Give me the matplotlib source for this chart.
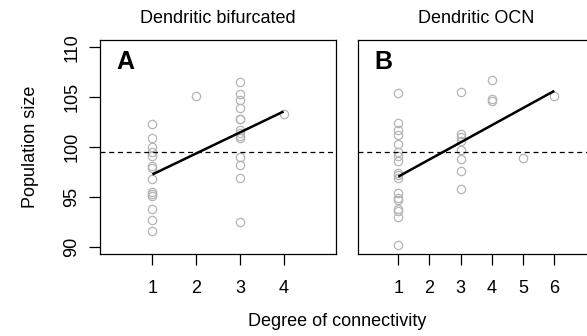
import matplotlib
matplotlib.use("Agg")
import matplotlib.pyplot as plt

plt.rcParams['font.family'] = ['Liberation Sans', 'DejaVu Sans']

# Panel A: dendritic bifurcated
a_x = [1]*14 + [2] + [3]*14 + [4]
a_y = [102.3, 100.9, 100.0, 99.5, 99.1, 98.1, 97.9, 96.8, 95.5, 95.3, 95.1, 93.8, 92.7, 91.6,
       105.1,
       106.5, 105.3, 104.7, 103.9, 102.8, 102.8, 101.7, 101.4, 101.1, 100.9, 99.0, 98.2, 96.9, 92.5,
       103.3]
a_fit_x = [1, 4]
a_fit_y = [97.25, 103.56]

# Panel B: dendritic OCN
b_x = [1]*18 + [3]*8 + [4]*3 + [5] + [6]
b_y = [105.4, 102.4, 101.7, 101.2, 100.3, 99.5, 99.1, 98.6, 97.4, 97.2, 96.9, 95.4, 94.9, 94.7,
       93.8, 93.6, 93.0, 90.2,
       105.5, 101.3, 101.0, 100.6, 99.7, 98.8, 97.6, 95.8,
       106.7, 104.8, 104.6,
       98.9,
       105.1]
b_fit_x = [1, 6]
b_fit_y = [97.03, 105.63]

ref_level = 99.46
y_ticks = [90, 95, 100, 105, 110]

fig = plt.figure(figsize=(5.87, 3.36), dpi=100)
W, H = 587, 336

def make_ax(left, right):
    return fig.add_axes([left / W, (H - 254) / H, (right - left) / W, 214 / H])

ax_a = make_ax(100, 336)
ax_b = make_ax(358.3, 594.3)

panels = [
    (ax_a, a_x, a_y, a_fit_x, a_fit_y, (-0.2, 5.2), [1, 2, 3, 4], "Dendritic bifurcated", "A"),
    (ax_b, b_x, b_y, b_fit_x, b_fit_y, (-0.28, 7.28), [1, 2, 3, 4, 5, 6], "Dendritic OCN", "B"),
]

for ax, xs, ys, fx, fy, xlim, xt, title, tag in panels:
    ax.plot(xs, ys, 'o', mfc='none', mec='#b5b5b5', ms=6.0, mew=0.9)
    ax.plot(fx, fy, color='black', lw=1.8, solid_capstyle='butt')
    ax.axhline(ref_level, color='black', lw=0.9, ls=(0, (4, 3)))
    ax.set_xlim(*xlim)
    ax.set_ylim(89.27, 110.73)
    ax.set_xticks(xt)
    ax.set_yticks(y_ticks)
    ax.tick_params(direction='out', length=8, width=0.9, labelsize=13)
    ax.tick_params(axis='x', pad=11)
    ax.tick_params(axis='y', pad=6)
    ax.set_title(title, fontsize=13, pad=12)
    ax.text(0.07, 0.955, tag, transform=ax.transAxes, fontsize=18, fontweight='bold',
            va='top', ha='left')
    for s in ax.spines.values():
        s.set_linewidth(0.9)

for lab in ax_a.get_yticklabels():
    lab.set_rotation(90)
    lab.set_va('center')
ax_b.tick_params(axis='y', left=False, labelleft=False)

ax_a.set_ylabel("Population size", fontsize=13, labelpad=18)
fig.text(337 / W, 1 - 322 / H, "Degree of connectivity", fontsize=13, ha='center', va='center')

fig.savefig("out.png", dpi=100)
